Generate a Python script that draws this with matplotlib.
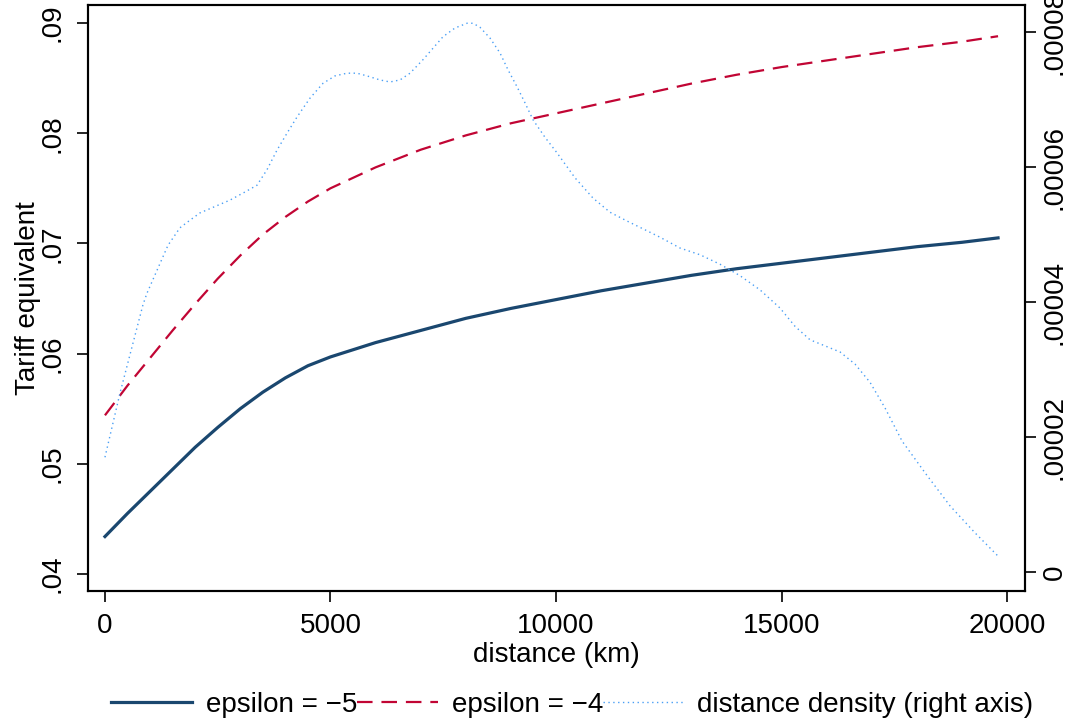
import matplotlib
matplotlib.use("Agg")
import matplotlib.pyplot as plt

plt.rcParams['font.family'] = ['Liberation Sans', 'DejaVu Sans']

# tariff equivalents by distance (km)
dist_eps = [0, 500, 1000, 1500, 2000, 2500, 3000, 3500, 4000, 4500, 5000, 6000, 7000, 8000,
            9000, 10000, 11000, 12000, 13000, 14000, 15000, 16000, 17000, 18000, 19000, 19800]
eps5 = [0.0434, 0.0455, 0.0475, 0.0495, 0.0515, 0.0533, 0.0550, 0.0565, 0.0578, 0.0589,
        0.0597, 0.0610, 0.0621, 0.0632, 0.0641, 0.0649, 0.0657, 0.0664, 0.0671, 0.0677,
        0.0682, 0.0687, 0.0692, 0.0697, 0.0701, 0.0705]
eps4 = [0.0544, 0.0571, 0.0596, 0.0621, 0.0645, 0.0668, 0.0689, 0.0708, 0.0724, 0.0738,
        0.0750, 0.0769, 0.0785, 0.0798, 0.0809, 0.0818, 0.0827, 0.0836, 0.0845, 0.0853,
        0.0860, 0.0866, 0.0872, 0.0878, 0.0883, 0.0888]

# kernel density of distance (right axis)
dist_dens = [0, 333, 843, 931, 1397, 1663, 1880, 2106, 2772, 3104, 3370, 3592, 3814, 4035,
             4257, 4545, 4834, 5100, 5366, 5588, 5809, 6098, 6319, 6541, 6763, 7051, 7273,
             7494, 7761, 8027, 8160, 8315, 8537, 8758, 8936, 9135, 9313, 9490, 9756, 10022,
             10421, 10820, 11197, 11574, 11973, 12306, 12749, 13193, 13636, 14080, 14523,
             14967, 15299, 15632, 15965, 16297, 16630, 16962, 17295, 17672, 18204, 18736,
             19290, 19823]
density = [1.70, 2.65, 3.96, 4.13, 4.84, 5.10, 5.21, 5.32, 5.51, 5.63, 5.73, 5.96, 6.25, 6.50,
           6.74, 7.02, 7.24, 7.35, 7.39, 7.39, 7.35, 7.29, 7.26, 7.29, 7.39, 7.59, 7.76,
           7.93, 8.06, 8.13, 8.13, 8.07, 7.91, 7.69, 7.44, 7.19, 6.95, 6.70, 6.44, 6.21,
           5.84, 5.54, 5.33, 5.20, 5.07, 4.96, 4.80, 4.70, 4.56, 4.39, 4.18,
           3.91, 3.64, 3.44, 3.35, 3.26, 3.08, 2.81, 2.43, 1.94, 1.45, 0.98,
           0.58, 0.22]
density = [d * 1e-5 for d in density]

left_ticks = [0.04, 0.05, 0.06, 0.07, 0.08, 0.09]
left_labels = ['.04', '.05', '.06', '.07', '.08', '.09']
right_ticks = [0, 0.00002, 0.00004, 0.00006, 0.00008]
right_labels = ['0', '.00002', '.00004', '.00006', '.00008']
x_ticks = [0, 5000, 10000, 15000, 20000]

fig = plt.figure(figsize=(10.7, 7.28), dpi=100)
ax = fig.add_axes([0.0822, 0.1882, 0.8758, 0.8049])
ax2 = ax.twinx()

l1, = ax.plot(dist_eps, eps5, color='#1a476f', lw=2.3, label='epsilon = \u22125')
l2, = ax.plot(dist_eps, eps4, color='#c10534', lw=1.6, dashes=(7, 4), label='epsilon = \u22124')
l3, = ax2.plot(dist_dens, density, color='#4a9ff5', lw=1.0, dashes=(1, 2.5),
               label='distance density (right axis)')

ax.set_xlim(-377, 20399)
ax.set_ylim(0.03846, 0.09163)
ax2.set_ylim(-2.81e-6, 8.4e-5)

ax.set_xticks(x_ticks)
ax.set_xticklabels([str(t) for t in x_ticks], fontsize=20)
ax.set_yticks(left_ticks)
ax.set_yticklabels(left_labels, fontsize=20, rotation=90, va='center')
ax2.set_yticks(right_ticks)
ax2.set_yticklabels(right_labels, fontsize=20, rotation=90, va='center')

ax.tick_params(axis='x', length=8, width=1.2, pad=8)
ax.tick_params(axis='y', length=8, width=1.2, pad=8)
ax2.tick_params(axis='y', length=8, width=1.2, pad=4)

for a in (ax, ax2):
    for s in a.spines.values():
        s.set_linewidth(1.5)

ax.set_xlabel('distance (km)', fontsize=20, labelpad=2)
ax.set_ylabel('Tariff equivalent', fontsize=20, labelpad=-1)

fig.legend(handles=[l1, l2, l3], loc='center', bbox_to_anchor=(0.535, 0.032),
           ncol=3, frameon=False, fontsize=20, handlelength=2.9, handletextpad=0.5,
           columnspacing=0.0)

fig.savefig('out.png', dpi=100)
